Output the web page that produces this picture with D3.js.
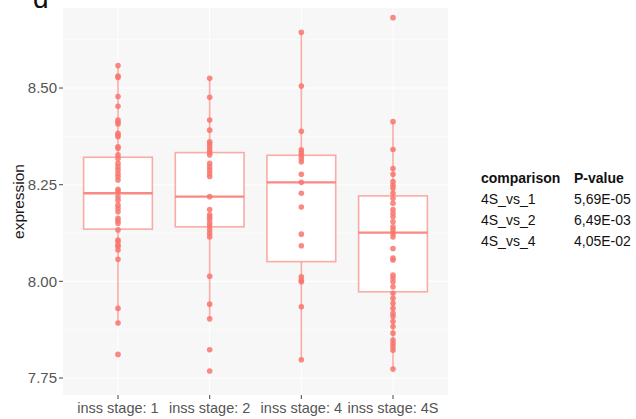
<!DOCTYPE html>
<html><head><meta charset="utf-8">
<script src="https://cdn.jsdelivr.net/npm/d3@7"></script>
<style>body{margin:0;background:#fff;} text{font-family:"Liberation Sans",Arial,sans-serif;}</style>
</head><body>
<svg id="c" width="636" height="419"></svg>
<script>
const categories = ["inss stage: 1","inss stage: 2","inss stage: 4","inss stage: 4S"];
const yTicks = [7.75, 8.00, 8.25, 8.50];
const yTickLabels = ["7.75","8.00","8.25","8.50"];
// box statistics: lower whisker, Q1, median, Q3, upper whisker
const whiskerLow = [7.892, 7.903, 7.797, 7.773];
const q1 = [8.135, 8.141, 8.051, 7.973];
const median = [8.228, 8.219, 8.256, 8.126];
const q3 = [8.321, 8.333, 8.326, 8.221];
const whiskerHigh = [8.558, 8.525, 8.644, 8.413];
// individual samples
const stage1 = [8.558,8.531,8.527,8.478,8.453,8.417,8.412,8.407,8.383,8.378,8.374,8.348,8.344,8.327,8.318,8.305,8.296,8.288,8.279,8.271,8.262,8.238,8.232,8.219,8.210,8.197,8.189,8.180,8.163,8.157,8.150,8.133,8.107,8.103,8.094,8.090,8.081,8.057,7.930,7.892,7.811];
const stage2 = [8.525,8.476,8.417,8.391,8.361,8.355,8.348,8.340,8.333,8.327,8.305,8.296,8.288,8.279,8.271,8.219,8.186,8.172,8.166,8.159,8.150,8.143,8.133,8.124,8.115,8.013,7.941,7.903,7.823,7.768];
const stage4 = [8.644,8.505,8.388,8.340,8.333,8.326,8.318,8.309,8.277,8.256,8.228,8.192,8.122,8.092,8.012,8.003,7.999,7.934,7.797];
const stage4S = [8.682,8.413,8.341,8.292,8.277,8.258,8.249,8.241,8.228,8.215,8.202,8.186,8.176,8.167,8.154,8.141,8.133,8.124,8.115,8.085,8.060,8.055,8.016,8.008,7.999,7.986,7.969,7.956,7.943,7.930,7.917,7.909,7.896,7.883,7.866,7.848,7.840,7.831,7.822,7.773];
const samples = [stage1, stage2, stage4, stage4S];
const compNames = ["4S_vs_1","4S_vs_2","4S_vs_4"];
const pValues = ["5,69E-05","6,49E-03","4,05E-02"];

const svg = d3.select("#c");
const P = {l:63, r:448, t:8, b:395};
const col = "#F8766D";

const y = d3.scaleLinear().domain([7.706, 8.707]).range([P.b, P.t]);
const x = d3.scalePoint().domain(categories).range([P.l, P.r]).padding(0.6);
const bw = x.step()*0.75;

// panel
svg.append("rect").attr("x",P.l).attr("y",P.t).attr("width",P.r-P.l).attr("height",P.b-P.t).attr("fill","#f7f7f7");
const minor = [];
for (let i=0;i<yTicks.length-1;i++) minor.push((yTicks[i]+yTicks[i+1])/2);
minor.push(8.625);
svg.append("g").selectAll("line.mn").data(minor).join("line")
  .attr("x1",P.l).attr("x2",P.r).attr("y1",d=>y(d)).attr("y2",d=>y(d)).attr("stroke","#fff").attr("stroke-width",0.6);
svg.append("g").selectAll("line.mj").data(yTicks).join("line")
  .attr("x1",P.l).attr("x2",P.r).attr("y1",d=>y(d)).attr("y2",d=>y(d)).attr("stroke","#fff").attr("stroke-width",1.1);
svg.append("g").selectAll("line.vx").data(categories).join("line")
  .attr("x1",d=>x(d)).attr("x2",d=>x(d)).attr("y1",P.t).attr("y2",P.b).attr("stroke","#fff").attr("stroke-width",1.1);

// boxes
const g = svg.append("g");
categories.forEach((c,i)=>{
  const cx = x(c);
  g.append("line").attr("x1",cx).attr("x2",cx).attr("y1",y(q3[i])).attr("y2",y(whiskerHigh[i])).attr("stroke",col).attr("stroke-opacity",0.6).attr("stroke-width",1.6);
  g.append("line").attr("x1",cx).attr("x2",cx).attr("y1",y(q1[i])).attr("y2",y(whiskerLow[i])).attr("stroke",col).attr("stroke-opacity",0.6).attr("stroke-width",1.6);
  g.append("rect").attr("x",cx-bw/2).attr("y",y(q3[i])).attr("width",bw).attr("height",y(q1[i])-y(q3[i]))
    .attr("fill","#fff").attr("stroke",col).attr("stroke-opacity",0.6).attr("stroke-width",1.6);
  g.append("line").attr("x1",cx-bw/2).attr("x2",cx+bw/2).attr("y1",y(median[i])).attr("y2",y(median[i])).attr("stroke",col).attr("stroke-opacity",0.85).attr("stroke-width",2.4);
  g.selectAll(null).data(samples[i]).join("circle").attr("cx",cx).attr("cy",d=>y(d)).attr("r",2.8).attr("fill",col).attr("fill-opacity",0.85);
});

// y axis
const ya = svg.append("g");
ya.selectAll("text").data(yTicks).join("text").attr("x",57).attr("y",d=>y(d)).attr("dy","0.35em")
  .attr("text-anchor","end").attr("font-size",15).attr("fill","#555").text((d,i)=>yTickLabels[i]);
ya.selectAll("line").data(yTicks).join("line").attr("x1",59).attr("x2",63).attr("y1",d=>y(d)).attr("y2",d=>y(d)).attr("stroke","#555").attr("stroke-width",1.1);
svg.append("text").attr("transform","translate(24,"+((P.t+P.b)/2)+") rotate(-90)").attr("text-anchor","middle")
  .attr("font-size",15.5).attr("fill","#1a1a1a").text("expression");

// x axis
const xa = svg.append("g");
xa.selectAll("line").data(categories).join("line").attr("x1",d=>x(d)).attr("x2",d=>x(d)).attr("y1",P.b).attr("y2",P.b+4).attr("stroke","#555").attr("stroke-width",1.1);
xa.selectAll("text").data(categories).join("text").attr("x",d=>x(d)).attr("y",413).attr("text-anchor","middle")
  .attr("font-size",14.5).attr("fill","#555").text(d=>d);

// panel letter
svg.append("text").attr("x",33).attr("y",8).attr("font-size",28).attr("fill","#111").text("d");

// table
const tx1 = 481, tx2 = 574;
svg.append("text").attr("x",tx1).attr("y",183).attr("font-size",14).attr("font-weight","bold").attr("fill","#111").text("comparison");
svg.append("text").attr("x",tx2).attr("y",183).attr("font-size",14).attr("font-weight","bold").attr("fill","#111").text("P-value");
compNames.forEach((n,i)=>{
  svg.append("text").attr("x",tx1).attr("y",204+i*21).attr("font-size",14).attr("fill","#111").text(n);
  svg.append("text").attr("x",tx2).attr("y",204+i*21).attr("font-size",14).attr("fill","#111").text(pValues[i]);
});
</script>
</body></html>
